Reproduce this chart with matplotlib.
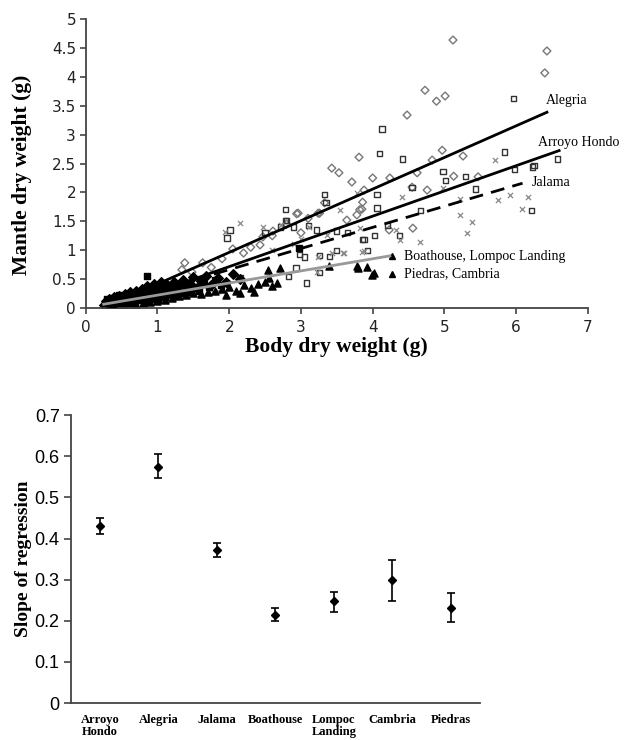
import matplotlib.pyplot as plt
import numpy as np

# ---- top panel: mantle vs body dry weight, per site ----
alegria_x = [5.12, 6.43, 6.40, 4.73, 4.89, 5.01, 4.97, 4.83, 5.26, 4.48, 3.81, 3.43, 3.53, 3.71,
             4.00, 4.24, 4.62, 4.76, 5.13, 5.47, 3.86, 3.82, 3.64, 4.56, 4.23, 3.26, 4.55, 3.88,
             3.33, 2.96, 3.24, 3.85, 3.78, 2.05, 2.47, 2.61, 2.43, 1.38, 1.63, 1.34, 1.48, 2.94,
             2.20, 1.90, 1.75, 2.30, 2.60, 2.80, 3.00, 3.10]
alegria_y = [4.64, 4.45, 4.07, 3.77, 3.58, 3.67, 2.73, 2.56, 2.63, 3.34, 2.61, 2.42, 2.34, 2.18,
             2.25, 2.25, 2.34, 2.04, 2.28, 2.27, 1.83, 1.70, 1.52, 1.38, 1.35, 1.64, 2.09, 2.04,
             1.82, 1.64, 1.64, 1.71, 1.61, 1.02, 1.23, 1.33, 1.09, 0.78, 0.78, 0.66, 0.62, 1.63,
             0.95, 0.85, 0.70, 1.05, 1.25, 1.45, 1.30, 1.55]

arroyo_x = [4.13, 4.09, 4.42, 5.96, 5.84, 6.58, 6.25, 4.98, 5.02, 5.30, 6.23, 5.98, 4.55, 5.43,
            6.22, 4.67, 4.06, 4.06, 4.03, 4.37, 3.86, 3.33, 3.50, 3.93, 3.40, 3.26, 3.08, 3.35,
            2.79, 2.80, 2.90, 2.50, 2.01, 1.97, 3.10, 3.22, 3.50, 3.65, 3.88, 4.21, 2.98, 3.05,
            3.26, 2.93, 2.83, 2.15, 2.71, 2.78]
arroyo_y = [3.10, 2.68, 2.58, 3.62, 2.70, 2.58, 2.46, 2.36, 2.21, 2.27, 2.44, 2.40, 2.08, 2.06,
            1.68, 1.68, 1.96, 1.73, 1.26, 1.25, 1.18, 1.96, 1.00, 1.00, 0.89, 0.61, 0.43, 1.82,
            1.71, 1.51, 1.40, 1.30, 1.35, 1.21, 1.42, 1.35, 1.33, 1.30, 1.18, 1.42, 0.92, 0.88,
            0.90, 0.69, 0.54, 0.52, 1.40, 1.51]

jalama_x = [5.70, 4.41, 3.54, 4.98, 5.22, 5.75, 5.91, 6.16, 6.08, 5.22, 5.38, 5.31, 4.66, 3.82,
            4.33, 4.38, 3.85, 3.58, 3.24, 3.36, 2.15, 2.47, 2.72, 3.11, 3.78, 3.88, 3.60, 3.22,
            3.43, 1.94, 1.77, 1.85, 2.60, 2.90, 3.00]
jalama_y = [2.56, 1.92, 1.70, 2.08, 1.89, 1.87, 1.96, 1.92, 1.71, 1.61, 1.49, 1.30, 1.14, 1.38,
            1.35, 1.18, 0.97, 0.95, 0.88, 1.26, 1.47, 1.40, 1.44, 1.40, 1.99, 0.99, 0.95, 0.62,
            0.95, 1.31, 0.28, 0.30, 1.00, 1.10, 1.20]

boathouse_x = [0.25, 0.28, 0.30, 0.33, 0.35, 0.38, 0.40, 0.42, 0.45, 0.47, 0.50, 0.52, 0.55, 0.57,
               0.60, 0.62, 0.65, 0.68, 0.70, 0.72, 0.75, 0.78, 0.80, 0.83, 0.85, 0.88, 0.90, 0.93,
               0.95, 0.98, 1.00, 1.03, 1.05, 1.08, 1.10, 1.13, 1.16, 1.20, 1.23, 1.27, 1.30, 1.35,
               1.40, 1.45, 1.50, 1.55, 1.60, 1.68, 1.75, 1.85, 1.95, 2.05, 2.15]
boathouse_y = [0.05, 0.12, 0.08, 0.15, 0.04, 0.10, 0.18, 0.07, 0.13, 0.20, 0.09, 0.16, 0.24, 0.11,
               0.18, 0.27, 0.12, 0.21, 0.30, 0.15, 0.25, 0.33, 0.18, 0.28, 0.38, 0.14, 0.22, 0.32,
               0.41, 0.19, 0.27, 0.36, 0.44, 0.22, 0.31, 0.40, 0.25, 0.34, 0.45, 0.28, 0.38, 0.48,
               0.30, 0.42, 0.53, 0.35, 0.47, 0.55, 0.40, 0.52, 0.45, 0.58, 0.50]

lompoc_x = [0.27, 0.30, 0.34, 0.37, 0.40, 0.43, 0.46, 0.49, 0.53, 0.56, 0.59, 0.63, 0.66, 0.69,
            0.73, 0.76, 0.79, 0.82, 0.86, 0.87, 0.91, 0.94, 0.97, 1.01, 1.04, 1.07, 1.11, 1.15,
            1.19, 1.24, 1.29, 1.34, 1.39, 1.44, 1.49, 1.58, 1.65, 1.72, 1.80, 1.88, 2.98]
lompoc_y = [0.02, 0.15, 0.09, 0.17, 0.03, 0.12, 0.22, 0.06, 0.14, 0.20, 0.08, 0.23, 0.16, 0.09,
            0.28, 0.13, 0.22, 0.10, 0.55, 0.31, 0.16, 0.26, 0.35, 0.14, 0.23, 0.33, 0.18, 0.29,
            0.39, 0.21, 0.33, 0.25, 0.40, 0.27, 0.36, 0.30, 0.42, 0.36, 0.48, 0.40, 1.04]

piedras_x = [0.30, 0.36, 0.44, 0.52, 0.60, 0.70, 0.80, 0.90, 1.00, 1.10, 1.20, 1.30, 1.40, 1.50,
             1.60, 1.70, 1.80, 1.90, 2.00, 2.10, 2.20, 2.30, 2.40, 2.50, 2.54, 2.55, 2.66, 2.71,
             3.39, 3.78, 3.79, 3.92, 3.99, 4.02, 2.15, 2.35, 1.95, 2.60]
piedras_y = [0.06, 0.02, 0.05, 0.03, 0.06, 0.05, 0.08, 0.10, 0.12, 0.14, 0.17, 0.20, 0.22, 0.25,
             0.24, 0.28, 0.30, 0.33, 0.36, 0.30, 0.40, 0.35, 0.42, 0.45, 0.66, 0.52, 0.43, 0.69,
             0.73, 0.73, 0.69, 0.71, 0.57, 0.61, 0.25, 0.28, 0.22, 0.38]

# fitted lines: slope, intercept, x range
fit_names = ['Alegria', 'Arroyo Hondo', 'Jalama', 'Boathouse, Lompoc Landing']
fit_slope = [0.548, 0.437, 0.366, 0.21]
fit_icpt = [-0.135, -0.16, -0.07, 0.01]
fit_x0 = [0.3, 0.3, 0.3, 0.25]
fit_x1 = [6.43, 6.6, 6.09, 4.24]

# ---- bottom panel: slope per site with error bars ----
sites = ['Arroyo\nHondo', 'Alegria', 'Jalama', 'Boathouse', 'Lompoc\nLanding', 'Cambria', 'Piedras']
slopes = [0.430, 0.575, 0.372, 0.215, 0.247, 0.298, 0.230]
err_lo = [0.410, 0.548, 0.355, 0.200, 0.222, 0.248, 0.197]
err_hi = [0.450, 0.605, 0.390, 0.230, 0.270, 0.347, 0.267]

serif = ['Liberation Serif', 'DejaVu Serif']
spine_c = '#444444'

fig = plt.figure(figsize=(6.26, 7.40), dpi=100)
ax = fig.add_axes([0.137, 0.584, 0.802, 0.39])

ax.scatter(alegria_x, alegria_y, marker='D', s=16, facecolors='none', edgecolors='#777777', linewidths=1.0, zorder=2)
ax.scatter(arroyo_x, arroyo_y, marker='s', s=14, facecolors='none', edgecolors='#333333', linewidths=1.0, zorder=2)
ax.scatter(jalama_x, jalama_y, marker='x', s=14, color='#888888', linewidths=0.9, zorder=2)
ax.scatter(boathouse_x, boathouse_y, marker='D', s=24, color='black', zorder=2)
ax.scatter(lompoc_x, lompoc_y, marker='s', s=24, color='black', zorder=2)
ax.scatter(piedras_x, piedras_y, marker='^', s=26, color='black', zorder=2)

styles = [dict(color='black', ls='-'), dict(color='black', ls='-'),
          dict(color='black', ls=(0, (5, 3))), dict(color='#999999', ls='-')]
for k in range(len(fit_names)):
    xx = np.array([fit_x0[k], fit_x1[k]])
    ax.plot(xx, fit_icpt[k] + fit_slope[k] * xx, lw=2.0, zorder=3, **styles[k])

ax.text(6.42, 3.6, 'Alegria', fontsize=10, family=serif, va='center')
ax.text(6.3, 2.86, 'Arroyo Hondo', fontsize=10, family=serif, va='center')
ax.text(6.22, 2.17, 'Jalama', fontsize=10, family=serif, va='center')
ax.plot([4.27, 4.27], [0.89, 0.59], ls='none', marker='^', ms=5, color='black')
ax.text(4.44, 0.89, 'Boathouse, Lompoc Landing', fontsize=10, family=serif, va='center')
ax.text(4.44, 0.59, 'Piedras, Cambria', fontsize=10, family=serif, va='center')

ax.set_xlim(0, 7)
ax.set_ylim(0, 5)
ax.set_xticks(range(8))
ax.set_yticks(np.arange(0, 5.01, 0.5))
ax.set_yticklabels(['0', '0.5', '1', '1.5', '2', '2.5', '3', '3.5', '4', '4.5', '5'])
ax.tick_params(labelsize=11, length=4, width=1.2, color=spine_c, labelcolor='#222222', pad=3)
ax.tick_params(axis='x', pad=5)
for s in ['top', 'right']:
    ax.spines[s].set_visible(False)
for s in ['left', 'bottom']:
    ax.spines[s].set_color(spine_c)
    ax.spines[s].set_linewidth(1.3)
ax.set_xlabel('Body dry weight (g)', fontsize=15.5, family=serif, fontweight='bold', labelpad=1)
ax.set_ylabel('Mantle dry weight (g)', fontsize=15.5, family=serif, fontweight='bold')
ax.yaxis.set_label_coords(-0.108, 0.46)

# bottom panel
bx = fig.add_axes([0.113, 0.05, 0.654, 0.389])
pos = np.arange(len(sites)) + 0.5
yerr = [np.array(slopes) - np.array(err_lo), np.array(err_hi) - np.array(slopes)]
bx.errorbar(pos, slopes, yerr=yerr, fmt='D', ms=4.5, color='black', ecolor='black',
            elinewidth=1.2, capsize=3, capthick=1.2)
bx.set_xlim(0, 7)
bx.set_ylim(0, 0.7)
bx.set_yticks(np.arange(0, 0.71, 0.1))
bx.set_yticklabels(['0', '0.1', '0.2', '0.3', '0.4', '0.5', '0.6', '0.7'],
                   family='Liberation Sans', fontsize=13)
bx.set_xticks(pos)
bx.set_xticklabels(sites, family=serif, fontweight='bold', fontsize=9, linespacing=1.0)
bx.tick_params(axis='x', length=0, pad=8)
bx.tick_params(axis='y', length=5, width=1.2, color=spine_c, pad=3)
for s in ['top', 'right']:
    bx.spines[s].set_visible(False)
for s in ['left', 'bottom']:
    bx.spines[s].set_color(spine_c)
    bx.spines[s].set_linewidth(1.3)
bx.set_ylabel('Slope of regression', fontsize=14, family=serif, fontweight='bold', labelpad=2)

fig.savefig('out.png', dpi=100)
